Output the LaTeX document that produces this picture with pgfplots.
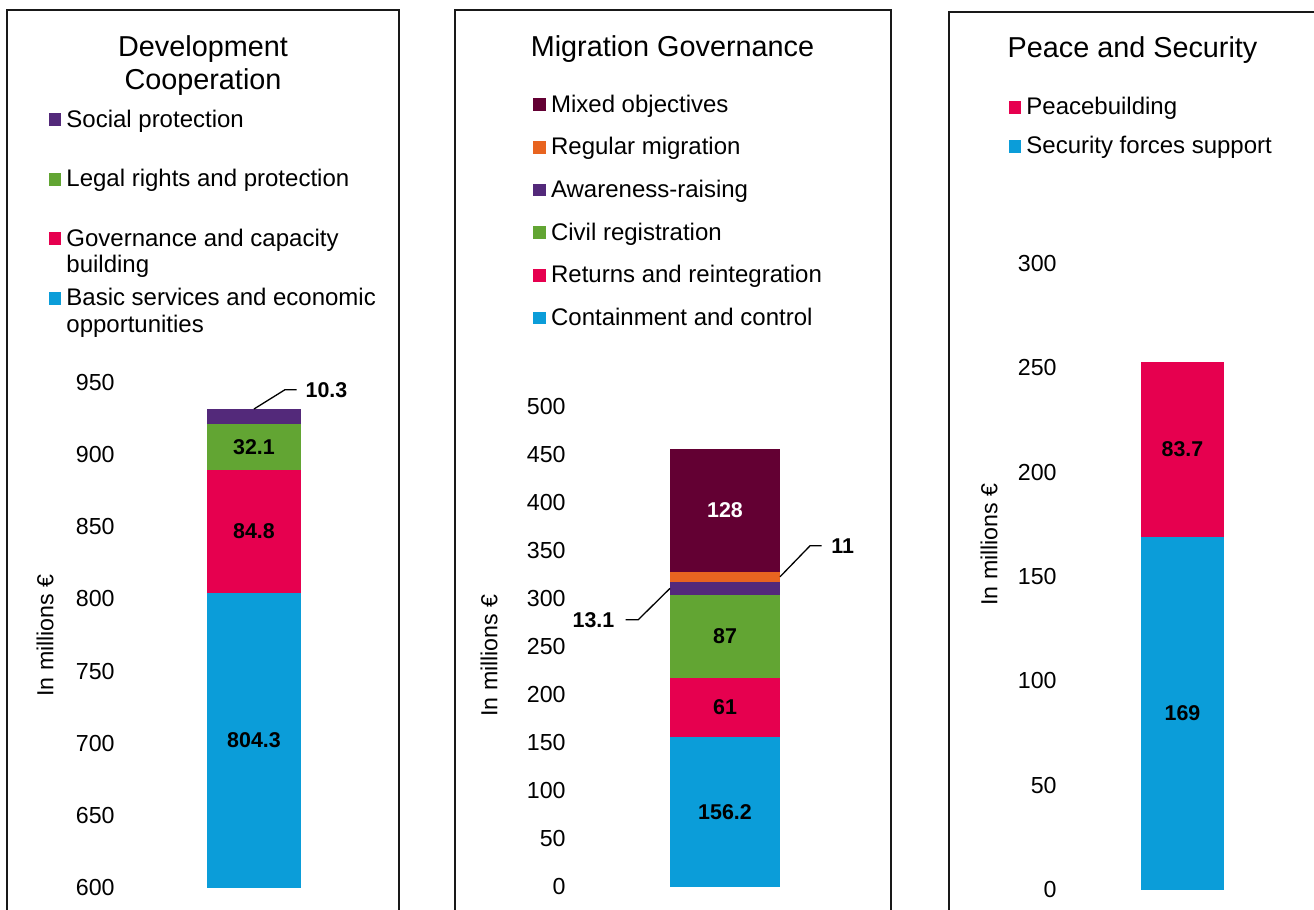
\documentclass[border=0pt]{standalone}
\usepackage{pgfplots}
\pgfplotsset{compat=1.18}
\usepackage{fontspec}
\setmainfont{Liberation Sans}
\definecolor{cblue}{RGB}{11,157,217}
\definecolor{cpink}{RGB}{230,0,79}
\definecolor{cgreen}{RGB}{98,165,51}
\definecolor{cpurple}{RGB}{83,41,122}
\definecolor{cmaroon}{RGB}{99,0,51}
\definecolor{corange}{RGB}{232,100,32}
\newcommand\tickfont{\fontsize{11.6}{14}\selectfont}
\newcommand\legfont{\fontsize{12}{13.3}\selectfont}
\newcommand\titlefont{\fontsize{14.4}{16}\selectfont}
\newcommand\datafont{\bfseries\fontsize{10.7}{12}\selectfont}
\pgfplotsset{
  panel/.style={scale only axis, anchor=south west,
    xmin=-1, xmax=1, enlargelimits=false, xtick=\empty,
    axis x line=none, axis y line=left,
    y axis line style={draw=none,-}, ytick style={draw=none}, major tick length=0pt,
    yticklabel style={font=\tickfont, inner sep=0pt, anchor=east},
    /pgf/number format/assume math mode=true,
    ylabel={In millions €},
    ybar stacked, clip mode=individual, reverse legend},
  sq/.style={fill=#1, draw=none,
    legend image code/.code={\fill[fill=#1] (0pt,0.5pt) rectangle (6.3pt,6.8pt);}},
}
\begin{document}
\begin{tikzpicture}
\useasboundingbox (0,0) rectangle (657pt,455pt);
\clip (0,0) rectangle (657pt,455pt);
% frames
\draw[line width=1pt, black!90] (3.65pt,-10pt) rectangle (199.65pt,450pt);
\draw[line width=1pt, black!90] (227.5pt,-10pt) rectangle (445.5pt,450pt);
\draw[line width=1pt, black!90] (474.65pt,-10pt) rectangle (700pt,449.2pt);
% titles
\node[anchor=base, font=\titlefont] at (101.5pt,426.65pt) {Development};
\node[anchor=base, font=\titlefont] at (101.5pt,410pt) {Cooperation};
\node[anchor=base, font=\titlefont] at (336.25pt,426.65pt) {Migration Governance};
\node[anchor=base, font=\titlefont] at (566.25pt,426.35pt) {Peace and Security};

% ---------------- Panel 1
\begin{axis}[panel, at={(57.5pt,11.15pt)}, width=139pt, height=252.7pt,
  ymin=600, ymax=950, ytick={600,650,...,950}, bar width=47pt,
  every axis y label/.style={at={(axis description cs:-0.2518,0.499)}, rotate=90, anchor=center, font=\tickfont},
  legend style={at={(axis description cs:-0.2399,1.5426)}, anchor=north west, draw=none, fill=none,
    inner sep=0pt, row sep=0pt, column sep=2.55pt, font=\legfont,
    nodes={inner sep=0pt, text height=9.31pt, text depth=20.44pt}, cells={anchor=base west}},
]
\addplot[sq=cblue] coordinates {(0,804.3)};
\addlegendentry{\parbox[t]{200pt}{Basic services and economic\\opportunities}}
\addplot[sq=cpink] coordinates {(0,84.8)};
\addlegendentry{\parbox[t]{200pt}{Governance and capacity\\building}}
\addplot[sq=cgreen] coordinates {(0,32.1)};
\addlegendentry{Legal rights and protection}
\addplot[sq=cpurple] coordinates {(0,10.3)};
\addlegendentry{Social protection}
\coordinate (a1) at (axis cs:0,702.15);
\coordinate (a2) at (axis cs:0,846.7);
\coordinate (a3) at (axis cs:0,905.15);
\coordinate (a4) at (axis cs:0,931.5);
\end{axis}

% ---------------- Panel 2
\begin{axis}[panel, at={(283pt,11.65pt)}, width=159pt, height=240pt,
  ymin=0, ymax=500, ytick={0,50,...,500}, bar width=55pt,
  every axis y label/.style={at={(axis description cs:-0.2421,0.4817)}, rotate=90, anchor=center, font=\tickfont},
  legend style={at={(axis description cs:-0.1038,1.6534)}, anchor=north west, draw=none, fill=none,
    inner sep=0pt, row sep=8.03pt, column sep=2.55pt, font=\legfont,
    nodes={inner sep=0pt, text height=9.31pt, text depth=3.99pt}, cells={anchor=base west}},
]
\addplot[sq=cblue] coordinates {(0,156.2)};
\addlegendentry{Containment and control}
\addplot[sq=cpink] coordinates {(0,61)};
\addlegendentry{Returns and reintegration}
\addplot[sq=cgreen] coordinates {(0,87)};
\addlegendentry{Civil registration}
\addplot[sq=cpurple] coordinates {(0,13.1)};
\addlegendentry{Awareness-raising}
\addplot[sq=corange] coordinates {(0,11)};
\addlegendentry{Regular migration}
\addplot[sq=cmaroon] coordinates {(0,128)};
\addlegendentry{Mixed objectives}
\coordinate (b1) at (axis cs:0,78.1);
\coordinate (b2) at (axis cs:0,186.7);
\coordinate (b3) at (axis cs:0,260.7);
\coordinate (b4) at (axis cs:0,392.3);
\coordinate (b5) at (axis cs:0,322.8);
\coordinate (b6) at (axis cs:0,310.75);
\end{axis}

% ---------------- Panel 3
\begin{axis}[panel, at={(528.5pt,10.15pt)}, width=125.5pt, height=313.15pt,
  ymin=0, ymax=300, ytick={0,50,...,300}, bar width=41.5pt,
  every axis y label/.style={at={(axis description cs:-0.2709,0.5512)}, rotate=90, anchor=center, font=\tickfont},
  legend style={at={(axis description cs:-0.194,1.2678)}, anchor=north west, draw=none, fill=none,
    inner sep=0pt, row sep=6.2pt, column sep=2.55pt, font=\legfont,
    nodes={inner sep=0pt, text height=9.31pt, text depth=3.99pt}, cells={anchor=base west}},
]
\addplot[sq=cblue] coordinates {(0,169)};
\addlegendentry{Security forces support}
\addplot[sq=cpink] coordinates {(0,83.7)};
\addlegendentry{Peacebuilding}
\coordinate (c1) at (axis cs:0,84.5);
\coordinate (c2) at (axis cs:0,210.85);
\end{axis}

% ---------------- data labels (on top of the bars)
\node[font=\datafont] at (a1) {804.3};
\node[font=\datafont] at (a2) {84.8};
\node[font=\datafont] at (a3) {32.1};
\draw[line width=0.65pt] (a4) -- ++(15.5pt,9.65pt) -- ++(5.85pt,0pt)
  node[anchor=west, inner sep=0pt, xshift=4.15pt, font=\datafont] {10.3};
\node[font=\datafont] at (b1) {156.2};
\node[font=\datafont] at (b2) {61};
\node[font=\datafont] at (b3) {87};
\node[font=\datafont, text=white] at (b4) {128};
\draw[line width=0.65pt] ([xshift=27.5pt]b5) -- ++(15pt,15.5pt) -- ++(5.85pt,0pt)
  node[anchor=west, inner sep=0pt, xshift=4.5pt, font=\datafont] {11};
\draw[line width=0.65pt] ([xshift=-27.5pt]b6) -- ++(-15.85pt,-15.65pt) -- ++(-6.3pt,0pt)
  node[anchor=east, inner sep=0pt, xshift=-5.35pt, font=\datafont] {13.1};
\node[font=\datafont] at (c1) {169};
\node[font=\datafont] at (c2) {83.7};
\end{tikzpicture}
\end{document}
